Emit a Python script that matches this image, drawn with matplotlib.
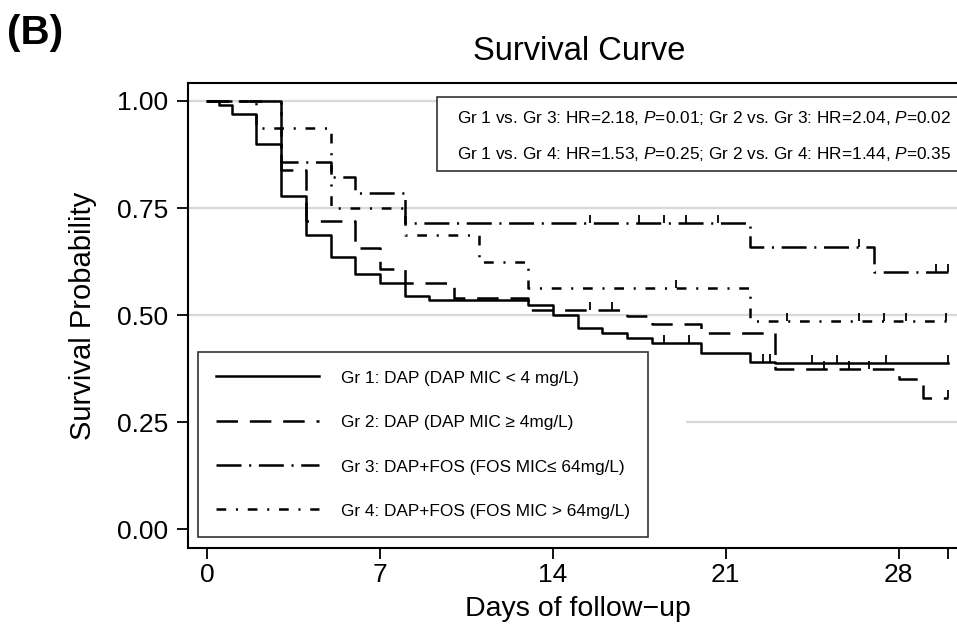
import numpy as np
import matplotlib
matplotlib.use("Agg")
import matplotlib.pyplot as plt
from matplotlib.patches import Rectangle

plt.rcParams["font.family"] = ["Liberation Sans", "DejaVu Sans"]
plt.rcParams["mathtext.fontset"] = "custom"
plt.rcParams["mathtext.rm"] = "Liberation Sans"
plt.rcParams["mathtext.it"] = "Liberation Sans:italic"
plt.rcParams["lines.scale_dashes"] = False

# Kaplan-Meier step data (time of each step, survival after step)
g1_t = [0, 0.5, 1, 2, 3, 4, 5, 6, 7, 8, 9, 13, 14, 15, 16, 17, 18, 20, 22, 23]
g1_s = [1.0, 0.990, 0.969, 0.899, 0.778, 0.687, 0.636, 0.597, 0.574, 0.544, 0.535,
        0.523, 0.500, 0.469, 0.457, 0.446, 0.434, 0.411, 0.391, 0.389]
g2_t = [0, 3, 4, 6, 7, 8, 10, 13, 17, 18, 20, 23, 28, 29]
g2_s = [1.0, 0.839, 0.72, 0.657, 0.607, 0.574, 0.54, 0.512, 0.497, 0.478, 0.457,
        0.374, 0.35, 0.307]
g3_t = [0, 3, 5, 6, 8, 22, 27]
g3_s = [1.0, 0.857, 0.822, 0.786, 0.714, 0.66, 0.60]
g4_t = [0, 2, 5, 8, 11, 13, 22]
g4_s = [1.0, 0.9375, 0.75, 0.6875, 0.625, 0.5625, 0.487]

# censored observations
g1_c = [18.5, 19.5, 22.5, 22.8, 24.5, 25.5, 27.5, 30]
g2_c = [15.5, 16.4, 25, 26, 26.8, 30]
g3_c = [15.5, 17.5, 18.5, 19.4, 20.7, 26.4, 29.5, 30]
g4_c = [19, 23.5, 26.4, 27.4, 28.3, 29.9]

labels = ["Gr 1: DAP (DAP MIC < 4 mg/L)",
          "Gr 2: DAP (DAP MIC \u2265 4mg/L)",
          "Gr 3: DAP+FOS (FOS MIC\u2264 64mg/L)",
          "Gr 4: DAP+FOS (FOS MIC > 64mg/L)"]
hr_lines = [r"Gr 1 vs. Gr 3: HR=2.18, $\mathit{P}$=0.01; Gr 2 vs. Gr 3: HR=2.04, $\mathit{P}$=0.02",
            r"Gr 1 vs. Gr 4: HR=1.53, $\mathit{P}$=0.25; Gr 2 vs. Gr 4: HR=1.44, $\mathit{P}$=0.35"]
t_end = 30

styles = [dict(linestyle="-"),
          dict(dashes=(15.5, 8.5)),
          dict(dashes=(18, 5.5, 1.5, 5.5)),
          dict(dashes=(7, 7, 1.5, 7))]

fig = plt.figure(figsize=(9.57, 6.24), dpi=100)
W, H = 957, 624
ax = fig.add_axes([188 / W, (H - 548) / H, (967 - 188) / W, (548 - 83) / H])

def surv_at(t, times, surv):
    idx = np.searchsorted(times, t, side="right") - 1
    return np.asarray(surv)[idx]

groups = [(g1_t, g1_s, g1_c), (g2_t, g2_s, g2_c), (g3_t, g3_s, g3_c), (g4_t, g4_s, g4_c)]
for (t, s, c), st, lab in zip(groups, styles, labels):
    tt = list(t) + [t_end]
    ss = list(s) + [s[-1]]
    ax.step(tt, ss, where="post", color="black", lw=1.8, label=lab, **st)
    ax.plot(c, surv_at(c, t, s), linestyle="none", marker=2, markersize=6,
            markeredgewidth=1.3, color="black")

for yv in [0.5, 0.75, 1.0]:
    ax.axhline(yv, color="#d9d9d9", lw=1.6, zorder=0)
ax.axhline(0.25, xmin=0.64, color="#d9d9d9", lw=1.6, zorder=0)

ax.set_xlim(-0.77, 30.77)
ax.set_ylim(-0.044, 1.042)
ax.set_xticks([0, 7, 14, 21, 28, 30])
ax.set_xticklabels(["0", "7", "14", "21", "28", ""])
ax.set_yticks([0, 0.25, 0.5, 0.75, 1.0])
ax.set_yticklabels(["0.00", "0.25", "0.50", "0.75", "1.00"])
ax.tick_params(labelsize=19, length=8, width=1.3, direction="out")
ax.tick_params(axis="y", pad=6.5)
ax.tick_params(axis="x", pad=3)
for sp in ax.spines.values():
    sp.set_linewidth(1.5)
ax.spines["right"].set_visible(False)

ax.set_xlabel("Days of follow\u2212up", fontsize=20.5, labelpad=6)
ax.set_ylabel("Survival Probability", fontsize=21, labelpad=14)
fig.text(579 / W, 1 - 52 / H, "Survival Curve", fontsize=23.5, ha="center", va="center")
fig.text(7 / W, 1 - 33 / H, "(B)", fontsize=29, fontweight="bold", ha="left", va="center")

leg = ax.legend(loc="lower left", bbox_to_anchor=(10 / 779, 11 / 465), borderaxespad=0,
                fontsize=12.4, handlelength=6.0, handletextpad=1.25, handleheight=0.9,
                labelspacing=1.64, borderpad=1.05, fancybox=False,
                edgecolor="#333333", framealpha=1)
leg.get_frame().set_linewidth(1.2)

# hazard ratio box
ax.add_patch(Rectangle(((437 - 188) / 779, (548 - 171) / 465), 0.8, (171 - 97) / 465,
                       transform=ax.transAxes, facecolor="white", edgecolor="#333333",
                       lw=1.2, clip_on=False, zorder=5))
for i, line in enumerate(hr_lines):
    ax.text((457 - 188) / 779, (548 - (118 + 36 * i)) / 465, line, transform=ax.transAxes,
            fontsize=12.4, ha="left", va="center", zorder=6)

fig.savefig("out.png", dpi=100)
